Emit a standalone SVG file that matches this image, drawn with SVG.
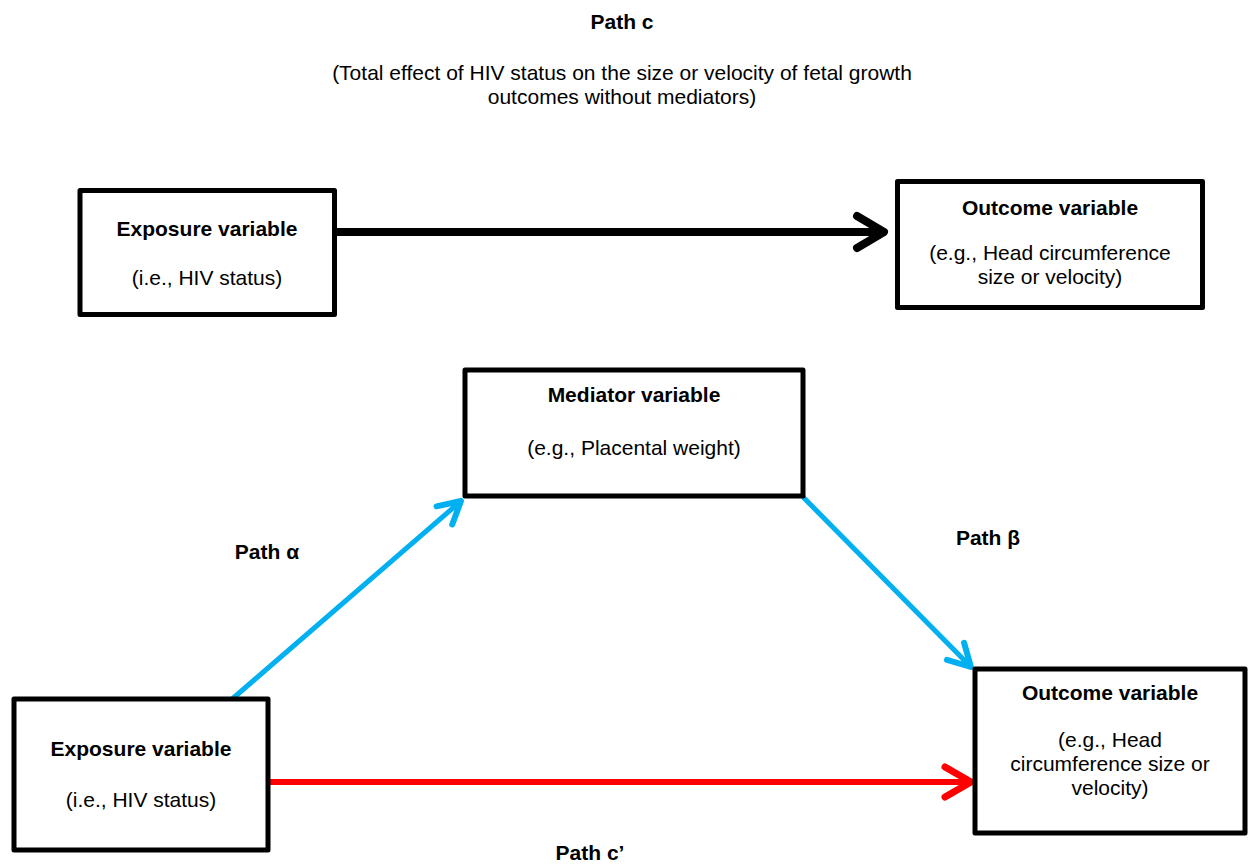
<svg xmlns="http://www.w3.org/2000/svg" width="1248" height="864" viewBox="0 0 1248 864">
<style>
.box{fill:#fff;stroke:#000;stroke-width:5;stroke-linejoin:round}
text{font-family:"Liberation Sans",Arial,sans-serif;font-size:21px;fill:#000;text-anchor:middle}
.b{font-weight:bold}
.ln{fill:none;stroke-linecap:butt}
.hd{fill:none;stroke-linecap:round;stroke-linejoin:round}
</style>
<defs>
<marker id="mk" markerUnits="userSpaceOnUse" orient="auto" refX="0" refY="0" markerWidth="1" markerHeight="1" overflow="visible"><path class="hd" d="M-27,-16 L0,0 L-27,16" stroke="#000" stroke-width="8"/></marker>
<marker id="mb" markerUnits="userSpaceOnUse" orient="auto" refX="0" refY="0" markerWidth="1" markerHeight="1" overflow="visible"><path class="hd" d="M-22,-12 L0,0 L-22,12" stroke="#00B0F0" stroke-width="6"/></marker>
<marker id="mr" markerUnits="userSpaceOnUse" orient="auto" refX="0" refY="0" markerWidth="1" markerHeight="1" overflow="visible"><path class="hd" d="M-26,-15 L0,0 L-26,15" stroke="#FF0000" stroke-width="7"/></marker>
</defs>
<text class="b" x="622" y="29">Path c</text>
<text x="622" y="80">(Total effect of HIV status on the size or velocity of fetal growth</text>
<text x="622" y="104">outcomes without mediators)</text>
<g id="connectors">
<path class="ln" d="M335,232 L884,232" stroke="#000" stroke-width="8" marker-end="url(#mk)"/>
<path class="ln" d="M231,700 L461,501" stroke="#00B0F0" stroke-width="5" marker-end="url(#mb)"/>
<path class="ln" d="M803,497 L971,667" stroke="#00B0F0" stroke-width="5" marker-end="url(#mb)"/>
<path class="ln" d="M268,782 L971,782" stroke="#FF0000" stroke-width="6" marker-end="url(#mr)"/>
</g>
<g id="exposure-top">
<rect class="box" x="80" y="190.5" width="254.5" height="124"/>
<text class="b" x="207" y="236">Exposure variable</text>
<text x="207" y="285">(i.e., HIV status)</text>
</g>
<g id="outcome-top">
<rect class="box" x="897.5" y="181.5" width="305" height="126"/>
<text class="b" x="1050" y="215">Outcome variable</text>
<text x="1050" y="260">(e.g., Head circumference</text>
<text x="1050" y="284">size or velocity)</text>
</g>
<g id="mediator">
<rect class="box" x="465" y="370" width="338" height="126"/>
<text class="b" x="634" y="402">Mediator variable</text>
<text x="634" y="455">(e.g., Placental weight)</text>
</g>
<g id="exposure-bottom">
<rect class="box" x="14" y="699" width="254" height="151"/>
<text class="b" x="141" y="756">Exposure variable</text>
<text x="141" y="807">(i.e., HIV status)</text>
</g>
<g id="outcome-bottom">
<rect class="box" x="975" y="669" width="270" height="164"/>
<text class="b" x="1110" y="700">Outcome variable</text>
<text x="1110" y="747">(e.g., Head</text>
<text x="1110" y="771">circumference size or</text>
<text x="1110" y="795">velocity)</text>
</g>
<text class="b" x="267" y="559">Path α</text>
<text class="b" x="988" y="545">Path β</text>
<text class="b" x="590" y="860">Path c’</text>
</svg>
